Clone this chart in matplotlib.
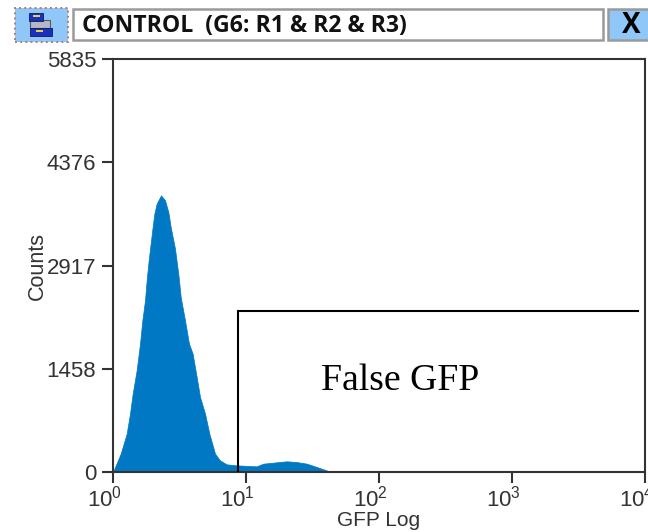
import matplotlib
matplotlib.use("Agg")
import matplotlib.pyplot as plt
from matplotlib.patches import Rectangle
from matplotlib.transforms import ScaledTranslation

W, H = 648, 532
plt.rcParams['font.family'] = ['Liberation Sans', 'DejaVu Sans']
plt.rcParams['mathtext.fontset'] = 'custom'
plt.rcParams['mathtext.rm'] = 'Liberation Sans'
plt.rcParams['mathtext.default'] = 'regular'

# Data
gfp = [1.00, 1.142, 1.267, 1.342, 1.406, 1.506, 1.596, 1.662, 1.740, 1.791, 1.854, 1.919,
       1.986, 2.046, 2.13, 2.296, 2.46, 2.606, 2.714, 2.925, 3.117, 3.227, 3.477, 3.727,
       3.97, 4.256, 4.51, 4.92, 5.30, 5.85, 6.37, 7.16, 8.51, 12.0, 13.5, 17.0, 20.2, 24.0,
       28.6, 34.0, 41.6, 43.0]
counts = [0, 259, 542, 824, 1107, 1437, 1813, 2143, 2426, 2708, 2991, 3226,
          3462, 3650, 3792, 3909, 3839, 3674, 3462, 3156, 2755, 2473, 2143, 1813,
          1672, 1343, 1060, 824, 542, 259, 165, 108, 94, 80, 118, 137, 151, 141,
          118, 71, 14, 0]
y_ticks = [0, 1458, 2917, 4376, 5835]
x_ticks = [1, 10, 100, 1000, 10000]
x_tick_labels = ['$10^{0}$', '$10^{1}$', '$10^{2}$', '$10^{3}$', '$10^{4}$']
gate_x = [8.7, 8.7, 8850]
gate_y = [0, 2275, 2275]
title = 'CONTROL  (G6: R1 & R2 & R3)'
gate_label = 'False GFP'

fig = plt.figure(figsize=(W / 100, H / 100), dpi=100, facecolor='white')
ax = fig.add_axes([113 / W, 1 - 472 / H, (645 - 113) / W, (472 - 59) / H])
ax.set_xscale('log')
ax.set_xlim(1, 10000)
ax.set_ylim(0, 5835)

ax.fill_between(gfp, counts, 0, color='#0078c4', linewidth=0.5, zorder=2)
ax.plot(gate_x, gate_y, color='black', lw=1.5, zorder=3, solid_joinstyle='miter')
fig.text(400 / W, 1 - 381 / H, gate_label, family='Liberation Serif', fontsize=27.2,
         color='black', ha='center', va='center')

for s in ax.spines.values():
    s.set_color('#333333')
    s.set_linewidth(1.5)

ax.set_xticks(x_ticks)
ax.set_xticklabels(x_tick_labels)
ax.minorticks_off()
ax.set_yticks(y_ticks)
ax.tick_params(axis='both', length=8, width=1.5, color='#333333', labelcolor='#333333',
               labelsize=16)
ax.tick_params(axis='x', pad=2)
ax.tick_params(axis='y', pad=4)
shift = ScaledTranslation(-8.5 / 100, 0, fig.dpi_scale_trans)
for lab in ax.get_xticklabels():
    lab.set_transform(lab.get_transform() + shift)
ax.set_xlabel('GFP Log', fontsize=15, color='#333333', labelpad=-0.3)
ax.set_ylabel('Counts', fontsize=15.5, color='#333333', labelpad=-0.5)


def box(x0, y0, x1, y1, **kw):
    fig.add_artist(Rectangle((x0 / W, 1 - y1 / H), (x1 - x0) / W, (y1 - y0) / H,
                             transform=fig.transFigure, **kw))


# Window header
box(15, 8, 68, 42, facecolor='#8ec7f8', edgecolor='#b87a70', lw=1.4, linestyle=':')
box(30, 20, 50, 28, facecolor='#b4b8c0', edgecolor='#555a66', lw=0.8)
box(29, 13, 43, 21, facecolor='#1a2fc0', edgecolor='#101a60', lw=0.6)
box(30, 28, 52, 36, facecolor='#1a2fc0', edgecolor='#101a60', lw=0.6)
box(33, 15, 40, 17, facecolor='#e8d040', edgecolor='none')
box(36, 30, 43, 32, facecolor='#e8d040', edgecolor='none')
box(73, 9, 603, 40, facecolor='white', edgecolor='#9a9a9a', lw=1.8)
box(608, 9, 650, 40, facecolor='#8ec7f8', edgecolor='#9a9a9a', lw=1.8)
fig.text(82 / W, 1 - 26 / H, title, family='Open Sans', weight='bold', fontsize=16.6,
         color='#111111', ha='left', va='center')
fig.text(631 / W, 1 - 25.5 / H, 'X', family='Open Sans', weight='bold', fontsize=20,
         color='black', ha='center', va='center')

fig.savefig('out.png', dpi=100, facecolor='white')
